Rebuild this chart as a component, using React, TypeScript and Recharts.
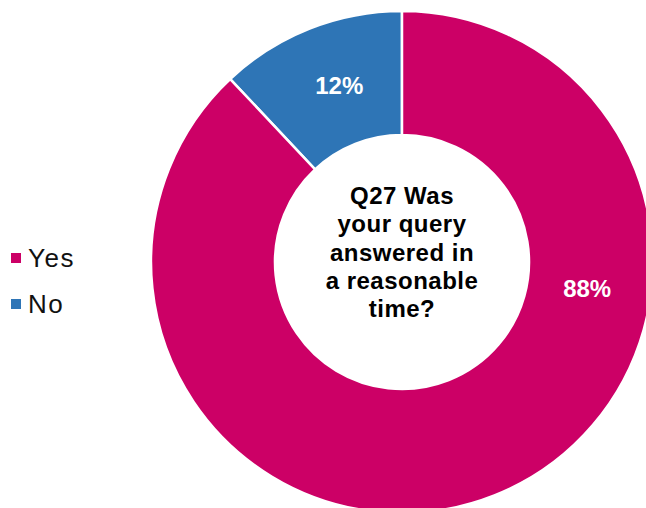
import React from 'react';
import { PieChart, Pie, Cell, Label, Legend } from 'recharts';

const answers = ['No', 'Yes'];
const shares = [12, 88];
const colors = ['#2E75B6', '#CC0066'];
const legendOrder = ['Yes', 'No'];
const titleLines = ['Q27 Was', 'your query', 'answered in', 'a reasonable', 'time?'];

const data = answers.map((name, i) => ({ name, value: shares[i] }));

const FONT = '"Liberation Sans", Arial, sans-serif';
const RAD = Math.PI / 180;
const CX = 402;
const CY = 262;

// Excel nudged the big slice's label over to the right side of the ring
const labelAngleFor = (name: string, mid: number) => (name === 'Yes' ? 352 : mid - 2);

const renderLabel = (p: any) => {
  const r = (p.innerRadius + p.outerRadius) / 2 - 2;
  const a = labelAngleFor(p.name, p.midAngle);
  const x = p.cx + r * Math.cos(-a * RAD);
  const y = p.cy + r * Math.sin(-a * RAD);
  return (
    <text x={x} y={y} fill="#fff" textAnchor="middle" dominantBaseline="central"
      fontFamily={FONT} fontWeight="bold" fontSize={24}>
      {p.value}%
    </text>
  );
};

const CenterTitle = () => {
  const step = 28.4;
  const top = CY - 10 - (step * (titleLines.length - 1)) / 2;
  return (
    <text textAnchor="middle" fontFamily={FONT} fontWeight="bold" fontSize={24} fill="#000" letterSpacing={0.5}>
      {titleLines.map((t, i) => (
        <tspan key={t} x={CX} y={top + i * step} dominantBaseline="central">{t}</tspan>
      ))}
    </text>
  );
};

const LegendBox = () => (
  <div style={{ fontFamily: FONT, fontSize: 26, color: '#111' }}>
    {legendOrder.map(name => (
      <div key={name} style={{ display: 'flex', alignItems: 'center', height: 46 }}>
        <span style={{ width: 10, height: 10, background: colors[answers.indexOf(name)], marginRight: 7, display: 'inline-block' }} />
        <span style={{ letterSpacing: 1.5 }}>{name}</span>
      </div>
    ))}
  </div>
);

export default function App() {
  return (
    <div style={{ position: 'absolute', left: 0, top: 0, width: 646, height: 508, background: '#fff' }}>
      <PieChart width={646} height={508} margin={{ top: 0, right: 0, bottom: 0, left: 0 }}>
        <Pie
          data={data}
          dataKey="value"
          nameKey="name"
          cx={CX}
          cy={CY}
          innerRadius={127}
          outerRadius={251}
          startAngle={90}
          endAngle={450}
          stroke="#fff"
          strokeWidth={2.5}
          label={renderLabel}
          labelLine={false}
          isAnimationActive={false}
        >
          {data.map((d, i) => <Cell key={d.name} fill={colors[i]} />)}
          <Label position="center" content={CenterTitle} />
        </Pie>
        <Legend content={LegendBox} wrapperStyle={{ left: 11, top: 235, width: 120 }} />
      </PieChart>
    </div>
  );
}
